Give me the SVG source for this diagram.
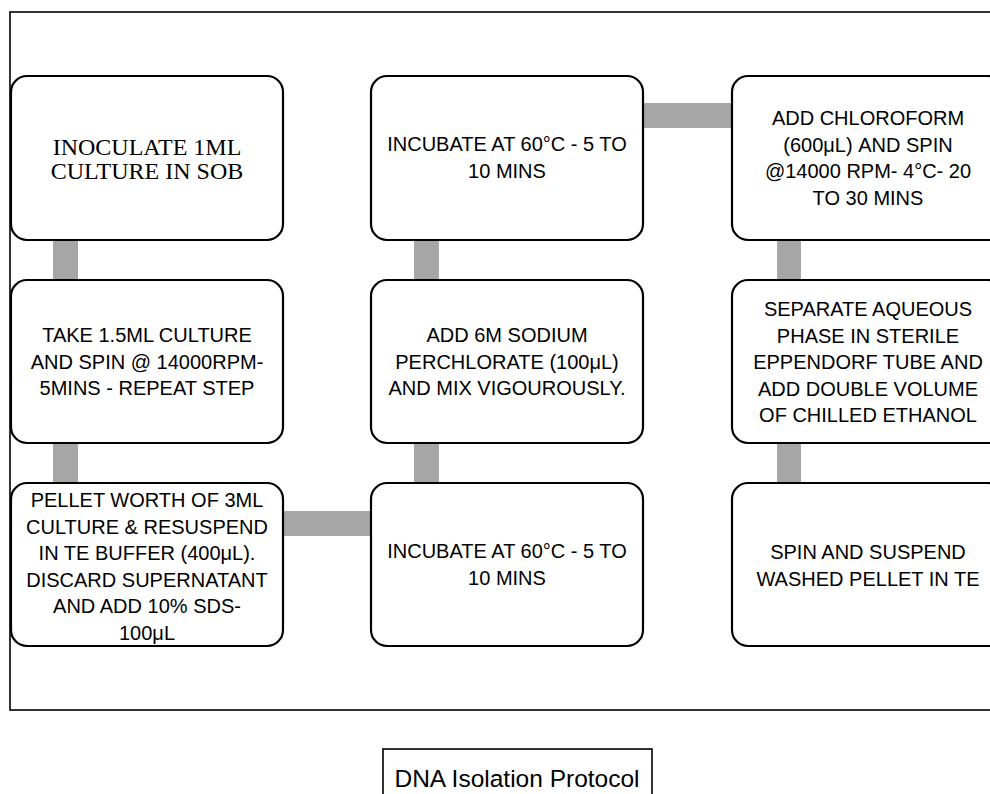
<svg xmlns="http://www.w3.org/2000/svg" width="990" height="794" viewBox="0 0 990 794">
<style>
.frame{fill:none;stroke:#000;stroke-width:1.6}
.node rect{fill:#fff;stroke:#000;stroke-width:2.2}
.conn rect{fill:#a6a6a6}
.t{font-family:"Liberation Sans",Arial,sans-serif;font-size:20px;fill:#000;text-anchor:middle}
.tt{font-family:"Liberation Serif","Times New Roman",serif;font-size:24px;fill:#000;text-anchor:middle}
.title{font-family:"Liberation Sans",Arial,sans-serif;font-size:24.5px;fill:#000;text-anchor:middle}
</style>
<rect width="990" height="794" fill="#fff"/>
<rect class="frame" x="10" y="12" width="1000" height="698"/>
<g id="connectors" class="conn">
<rect x="53" y="239" width="25" height="41"/>
<rect x="53" y="442" width="25" height="42"/>
<rect x="414" y="239" width="25" height="41"/>
<rect x="414" y="442" width="25" height="42"/>
<rect x="777" y="239" width="24" height="41"/>
<rect x="777" y="442" width="24" height="42"/>
<rect x="642" y="103" width="91" height="25"/>
<rect x="282" y="511" width="90" height="25"/>
</g>
<g id="n1" class="node"><rect x="11" y="76" width="272" height="164" rx="16"/>
<text class="tt" x="147" y="155">INOCULATE 1ML</text>
<text class="tt" x="147" y="179">CULTURE IN SOB</text></g>
<g id="n2" class="node"><rect x="11" y="280" width="272" height="163" rx="16"/>
<text class="t" x="147" y="342">TAKE 1.5ML CULTURE</text>
<text class="t" x="147" y="368.5">AND SPIN @ 14000RPM-</text>
<text class="t" x="147" y="395">5MINS - REPEAT STEP</text></g>
<g id="n3" class="node"><rect x="11" y="483" width="272" height="163" rx="16"/>
<text class="t" x="147" y="507">PELLET WORTH OF 3ML</text>
<text class="t" x="147" y="533.5">CULTURE &amp; RESUSPEND</text>
<text class="t" x="147" y="560">IN TE BUFFER (400μL).</text>
<text class="t" x="147" y="586.5">DISCARD SUPERNATANT</text>
<text class="t" x="147" y="613">AND ADD 10% SDS-</text>
<text class="t" x="147" y="639.5">100μL</text></g>
<g id="n4" class="node"><rect x="371" y="76" width="272" height="164" rx="16"/>
<text class="t" x="507" y="151">INCUBATE AT 60°C - 5 TO</text>
<text class="t" x="507" y="178">10 MINS</text></g>
<g id="n5" class="node"><rect x="371" y="280" width="272" height="163" rx="16"/>
<text class="t" x="507" y="342">ADD 6M SODIUM</text>
<text class="t" x="507" y="368.5">PERCHLORATE (100μL)</text>
<text class="t" x="507" y="395">AND MIX VIGOUROUSLY.</text></g>
<g id="n6" class="node"><rect x="371" y="483" width="272" height="163" rx="16"/>
<text class="t" x="507" y="558">INCUBATE AT 60°C - 5 TO</text>
<text class="t" x="507" y="585">10 MINS</text></g>
<g id="n7" class="node"><rect x="732" y="76" width="272" height="164" rx="16"/>
<text class="t" x="868" y="125">ADD CHLOROFORM</text>
<text class="t" x="868" y="151.5">(600μL) AND SPIN</text>
<text class="t" x="868" y="178">@14000 RPM- 4°C- 20</text>
<text class="t" x="868" y="204.5">TO 30 MINS</text></g>
<g id="n8" class="node"><rect x="732" y="280" width="272" height="163" rx="16"/>
<text class="t" x="868" y="316">SEPARATE AQUEOUS</text>
<text class="t" x="868" y="342.5">PHASE IN STERILE</text>
<text class="t" x="868" y="369">EPPENDORF TUBE AND</text>
<text class="t" x="868" y="395.5">ADD DOUBLE VOLUME</text>
<text class="t" x="868" y="422">OF CHILLED ETHANOL</text></g>
<g id="n9" class="node"><rect x="732" y="483" width="272" height="163" rx="16"/>
<text class="t" x="868" y="559">SPIN AND SUSPEND</text>
<text class="t" x="868" y="585.5">WASHED PELLET IN TE</text></g>
<g id="caption"><rect x="383" y="749" width="269" height="60" fill="#fff" stroke="#000" stroke-width="1.6"/>
<text class="title" x="517" y="787">DNA Isolation Protocol</text></g>
</svg>
